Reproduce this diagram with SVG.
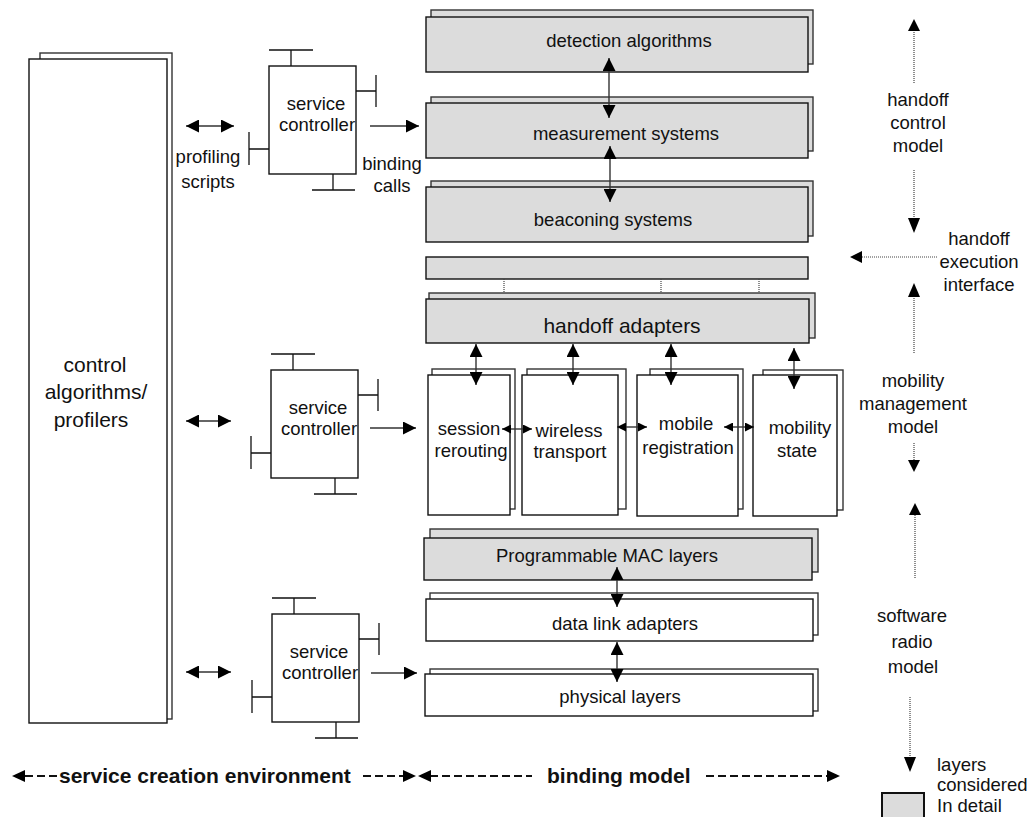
<svg xmlns="http://www.w3.org/2000/svg" width="1032" height="817" viewBox="0 0 1032 817">
<style>
text{font-family:"Liberation Sans",Arial,sans-serif;font-size:18.5px;fill:#111}
.big{font-size:21px}
.bold{font-size:21px;font-weight:bold}
.m{text-anchor:middle}
.box{fill:#fff;stroke:#111;stroke-width:1.4}
.back{fill:#fff;stroke:#333;stroke-width:1.4}
.g{fill:#dcdcdc}
.ln{stroke:#111;stroke-width:1.3;fill:none}
.arr{stroke:#333;stroke-width:1.4;fill:none}
.dot{stroke:#444;stroke-width:1.2;stroke-dasharray:1 1;fill:none}
.dash{stroke:#111;stroke-width:2;stroke-dasharray:8 4;fill:none}
</style>
<defs>
<marker id="ah" markerUnits="userSpaceOnUse" markerWidth="13" markerHeight="13" refX="13" refY="6.5" orient="auto-start-reverse"><path d="M0,0 L13,6.5 L0,13 z" fill="#000"/></marker>
<marker id="as" markerUnits="userSpaceOnUse" markerWidth="9" markerHeight="9" refX="9" refY="4.5" orient="auto-start-reverse"><path d="M0,0 L9,4.5 L0,9 z" fill="#000"/></marker>
<g id="scshape">
<rect class="box" x="0" y="0" width="87" height="108"/>
<path class="ln" d="M0,-16 H44 M22,-16 V0 M87,25 H107 M107,9 V41 M-20,83 H0 M-20,66 V99 M64,108 V124 M43,124 H86"/>
<text class="m" x="47" y="44">service</text>
<text class="m" x="48" y="65">controller</text>
</g>
</defs>

<g id="control-algorithms">
<rect class="back" x="40" y="53" width="132" height="666"/>
<rect class="box" x="29" y="59" width="138" height="664"/>
<text class="big m" x="95" y="372">control</text>
<text class="big m" x="96" y="399">algorithms/</text>
<text class="big m" x="91" y="427">profilers</text>
</g>

<g id="service-controller-1"><use href="#scshape" transform="translate(269,66)"/></g>
<g id="service-controller-2"><use href="#scshape" transform="translate(271,370)"/></g>
<g id="service-controller-3"><use href="#scshape" transform="translate(272,614)"/></g>

<g id="profiling-scripts-label">
<text class="m" x="208" y="163">profiling</text>
<text class="m" x="208" y="188">scripts</text>
</g>
<g id="binding-calls-label">
<text class="m" x="392" y="170">binding</text>
<text class="m" x="392" y="192">calls</text>
</g>

<g id="detection-algorithms">
<rect class="back g" x="431" y="10" width="382" height="54"/>
<rect class="box g" x="426" y="17" width="382" height="55"/>
<text class="m" x="629" y="47">detection algorithms</text>
</g>
<g id="measurement-systems">
<rect class="back g" x="431" y="97" width="382" height="54"/>
<rect class="box g" x="426" y="103" width="382" height="55"/>
<text class="m" x="626" y="140">measurement systems</text>
</g>
<g id="beaconing-systems">
<rect class="back g" x="431" y="181" width="382" height="55"/>
<rect class="box g" x="426" y="187" width="382" height="55"/>
<text class="m" x="613" y="226">beaconing systems</text>
</g>
<g id="execution-interface-bar">
<rect class="box g" x="426" y="257" width="382" height="22"/>
</g>
<g id="handoff-adapters">
<rect class="back g" x="429" y="293" width="386" height="45"/>
<rect class="box g" x="426" y="299" width="383" height="44"/>
<text class="big m" x="622" y="333">handoff adapters</text>
</g>

<g id="session-rerouting">
<rect class="back" x="432" y="369" width="83" height="140"/>
<rect class="box" x="428" y="375" width="82" height="140"/>
<text class="m" x="469" y="435">session</text>
<text class="m" x="471" y="457">rerouting</text>
</g>
<g id="wireless-transport">
<rect class="back" x="527" y="369" width="99" height="140"/>
<rect class="box" x="522" y="375" width="96" height="140"/>
<text class="m" x="569" y="437">wireless</text>
<text class="m" x="570" y="458">transport</text>
</g>
<g id="mobile-registration">
<rect class="back" x="650" y="369" width="93" height="140"/>
<rect class="box" x="637" y="375" width="101" height="141"/>
<text class="m" x="686" y="430">mobile</text>
<text class="m" x="688" y="454">registration</text>
</g>
<g id="mobility-state">
<rect class="back" x="763" y="370" width="80" height="140"/>
<rect class="box" x="753" y="375" width="84" height="141"/>
<text class="m" x="800" y="434">mobility</text>
<text class="m" x="797" y="457">state</text>
</g>

<g id="programmable-mac-layers">
<rect class="back g" x="430" y="529" width="388" height="43"/>
<rect class="box g" x="424" y="538" width="388" height="42"/>
<text class="m" x="607" y="562">Programmable MAC layers</text>
</g>
<g id="data-link-adapters">
<rect class="back" x="430" y="593" width="388" height="42"/>
<rect class="box" x="426" y="599" width="387" height="42"/>
<text class="m" x="625" y="630">data link adapters</text>
</g>
<g id="physical-layers">
<rect class="back" x="430" y="669" width="388" height="42"/>
<rect class="box" x="425" y="674" width="388" height="42"/>
<text class="m" x="620" y="703">physical layers</text>
</g>

<g id="right-labels">
<text class="m" x="918" y="106">handoff</text>
<text class="m" x="918" y="129">control</text>
<text class="m" x="918" y="152">model</text>
<text class="m" x="979" y="245">handoff</text>
<text class="m" x="979" y="268">execution</text>
<text class="m" x="979" y="291">interface</text>
<text class="m" x="913" y="387">mobility</text>
<text class="m" x="913" y="410">management</text>
<text class="m" x="913" y="433">model</text>
<text class="m" x="912" y="622">software</text>
<text class="m" x="912" y="648">radio</text>
<text class="m" x="913" y="673">model</text>
</g>

<g id="legend">
<rect x="882" y="793" width="42" height="40" fill="#dcdcdc" stroke="#111" stroke-width="2"/>
<text x="937" y="771">layers</text>
<text x="937" y="791">considered</text>
<text x="937" y="812">In detail</text>
</g>

<g id="bottom-labels">
<text class="bold" x="59" y="783">service creation environment</text>
<text class="bold" x="547" y="783">binding model</text>
</g>

<g id="connectors">
<!-- left double arrows -->
<path class="arr" d="M186,126 H234" marker-start="url(#ah)" marker-end="url(#ah)"/>
<path class="arr" d="M186,421 H231" marker-start="url(#ah)" marker-end="url(#ah)"/>
<path class="arr" d="M186,672 H231" marker-start="url(#ah)" marker-end="url(#ah)"/>
<!-- service controller to layers -->
<path class="arr" d="M370,126 H419" marker-end="url(#ah)"/>
<path class="arr" d="M370,428 H416" marker-end="url(#ah)"/>
<path class="arr" d="M371,673 H417" marker-end="url(#ah)"/>
<!-- upper stack -->
<path class="arr" d="M609,58 V118" marker-start="url(#ah)" marker-end="url(#ah)"/>
<path class="arr" d="M610,146 V202" marker-start="url(#ah)" marker-end="url(#ah)"/>
<!-- dotted links bar to adapters -->
<path class="dot" d="M504,279 V293 M661,279 V293 M759,279 V293"/>
<!-- adapters to mobility boxes -->
<path class="arr" d="M476,344 V385" marker-start="url(#ah)" marker-end="url(#ah)"/>
<path class="arr" d="M573,344 V385" marker-start="url(#ah)" marker-end="url(#ah)"/>
<path class="arr" d="M671,344 V385" marker-start="url(#ah)" marker-end="url(#ah)"/>
<path class="arr" d="M794,348 V389" marker-start="url(#ah)" marker-end="url(#ah)"/>
<!-- between mobility boxes -->
<path class="arr" d="M502,429 H532" marker-start="url(#as)" marker-end="url(#as)"/>
<path class="arr" d="M617,427 H647" marker-start="url(#as)" marker-end="url(#as)"/>
<path class="arr" d="M724,427 H754" marker-start="url(#as)" marker-end="url(#as)"/>
<!-- lower stack -->
<path class="arr" d="M617,567 V607" marker-start="url(#ah)" marker-end="url(#ah)"/>
<path class="arr" d="M617,642 V682" marker-start="url(#ah)" marker-end="url(#ah)"/>
<!-- right side model arrows -->
<path class="dot" d="M914,83 V31"/><path d="M908,31 L920,31 L914,19 z" fill="#000"/>
<path class="dot" d="M914,170 V218"/><path d="M908,218 L920,218 L914,233 z" fill="#000"/>
<path class="dot" d="M937,257 H862"/><path d="M862,251 L862,263 L850,257 z" fill="#000"/>
<path class="dot" d="M914,353 V297"/><path d="M908,297 L920,297 L914,283 z" fill="#000"/>
<path class="dot" d="M914,443 V460"/><path d="M908,460 L920,460 L914,472 z" fill="#000"/>
<path class="dot" d="M915,578 V515"/><path d="M909,515 L921,515 L915,503 z" fill="#000"/>
<path class="dot" d="M910,697 V757"/><path d="M904,757 L916,757 L910,772 z" fill="#000"/>
<!-- bottom dashed arrows -->
<path class="dash" d="M25,776 H58"/><path d="M25,770 L25,782 L12,776 z" fill="#000"/>
<path class="dash" d="M363,776 H403"/><path d="M403,770 L403,782 L416,776 z" fill="#000"/>
<path class="dash" d="M430,776 H532"/><path d="M431,770 L431,782 L418,776 z" fill="#000"/>
<path class="dash" d="M706,776 H827"/><path d="M827,770 L827,782 L840,776 z" fill="#000"/>
</g>
</svg>
